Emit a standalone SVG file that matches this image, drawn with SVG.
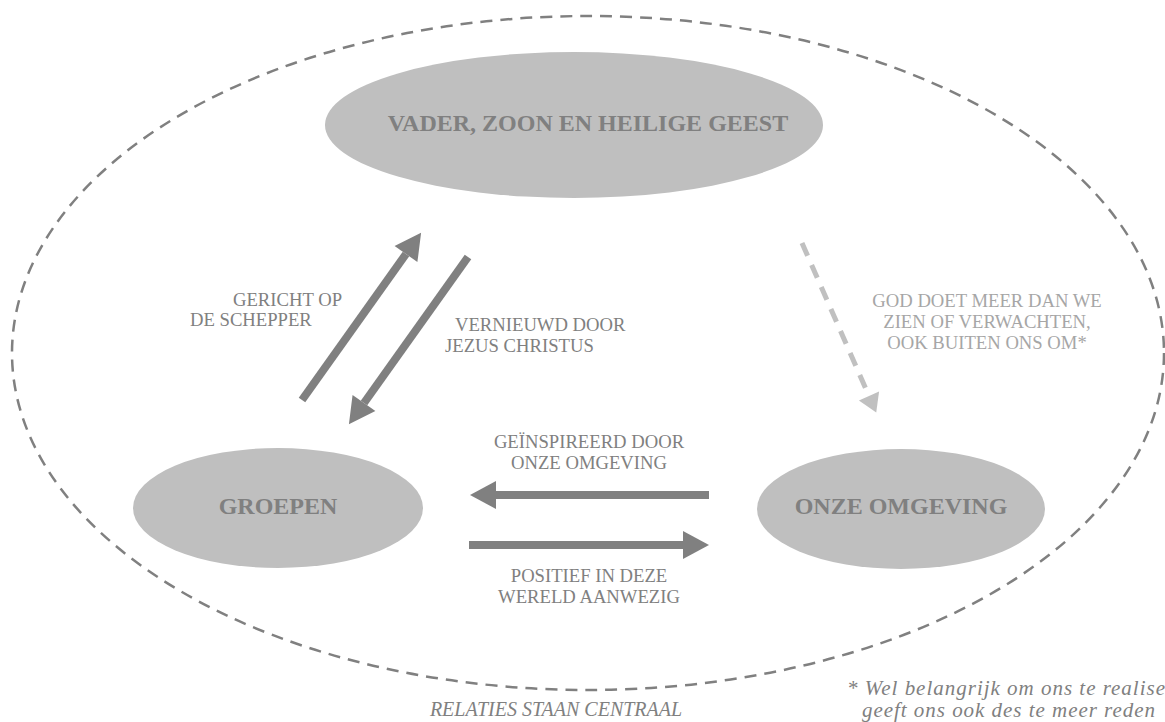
<svg xmlns="http://www.w3.org/2000/svg" width="1165" height="722" viewBox="0 0 1165 722">
<style>
.node{fill:#bfbfbf;stroke:none}
.ntxt{font-family:"Liberation Serif","Times New Roman",serif;font-weight:bold;font-size:24px;fill:#808080;text-anchor:middle}
.lbl{font-family:"Liberation Serif","Times New Roman",serif;font-size:18.67px;fill:#808080}
.lbl2{font-family:"Liberation Serif","Times New Roman",serif;font-size:18.67px;fill:#a6a6a6;text-anchor:middle}
.it{font-family:"Liberation Serif","Times New Roman",serif;font-style:italic;fill:#808080}
.arr{stroke:#808080;stroke-width:8;fill:none;marker-end:url(#ah)}
.darr{stroke:#c0c0c0;stroke-width:5;fill:none;stroke-dasharray:14 10;marker-end:url(#ah2)}
</style>
<defs>
<marker id="ah" markerUnits="userSpaceOnUse" markerWidth="26" markerHeight="28" refX="0" refY="14" orient="auto" overflow="visible">
<path d="M0,0 L26,14 L0,28 z" fill="#808080"/>
</marker>
<marker id="ah2" markerUnits="userSpaceOnUse" markerWidth="18" markerHeight="22" refX="0" refY="11" orient="auto" overflow="visible">
<path d="M0,0 L18,11 L0,22 z" fill="#c0c0c0"/>
</marker>
</defs>
<rect width="1165" height="722" fill="#ffffff"/>
<ellipse id="boundary" cx="588" cy="353" rx="576" ry="337" fill="none" stroke="#808080" stroke-width="2.5" stroke-dasharray="12 8"/>
<g id="connectors">
<line class="arr" x1="302" y1="400" x2="406" y2="254"/>
<line class="arr" x1="468" y1="257" x2="364" y2="403"/>
<line class="arr" x1="709" y1="495" x2="496" y2="495"/>
<line class="arr" x1="469" y1="545" x2="683" y2="545"/>
<line class="darr" x1="802" y1="243" x2="869" y2="396"/>
</g>
<g id="node-vader">
<ellipse class="node" cx="574" cy="125" rx="249" ry="73"/>
<text class="ntxt" x="588" y="131">VADER, ZOON EN HEILIGE GEEST</text>
</g>
<g id="node-groepen">
<ellipse class="node" cx="278" cy="508" rx="145" ry="60"/>
<text class="ntxt" x="278" y="514">GROEPEN</text>
</g>
<g id="node-omgeving">
<ellipse class="node" cx="901" cy="509" rx="144" ry="60"/>
<text class="ntxt" x="901" y="514">ONZE OMGEVING</text>
</g>
<g id="labels">
<text class="lbl" x="233" y="306">GERICHT OP</text>
<text class="lbl" x="190" y="326">DE SCHEPPER</text>
<text class="lbl" x="455" y="331">VERNIEUWD DOOR</text>
<text class="lbl" x="445" y="352">JEZUS CHRISTUS</text>
<text class="lbl" x="589" y="448" text-anchor="middle">GEÏNSPIREERD DOOR</text>
<text class="lbl" x="589" y="469" text-anchor="middle">ONZE OMGEVING</text>
<text class="lbl" x="589" y="582" text-anchor="middle">POSITIEF IN DEZE</text>
<text class="lbl" x="589" y="603" text-anchor="middle">WERELD AANWEZIG</text>
<text class="lbl2" x="987" y="307">GOD DOET MEER DAN WE</text>
<text class="lbl2" x="987" y="328">ZIEN OF VERWACHTEN,</text>
<text class="lbl2" x="987" y="349">OOK BUITEN ONS OM*</text>
<text class="it" x="556" y="716" font-size="20" text-anchor="middle">RELATIES STAAN CENTRAAL</text>
<text class="it" x="847" y="695" font-size="21" textLength="318" lengthAdjust="spacing">* Wel belangrijk om ons te realise</text>
<text class="it" x="862" y="717" font-size="21" textLength="293" lengthAdjust="spacing">geeft ons ook des te meer reden</text>
</g>
</svg>
